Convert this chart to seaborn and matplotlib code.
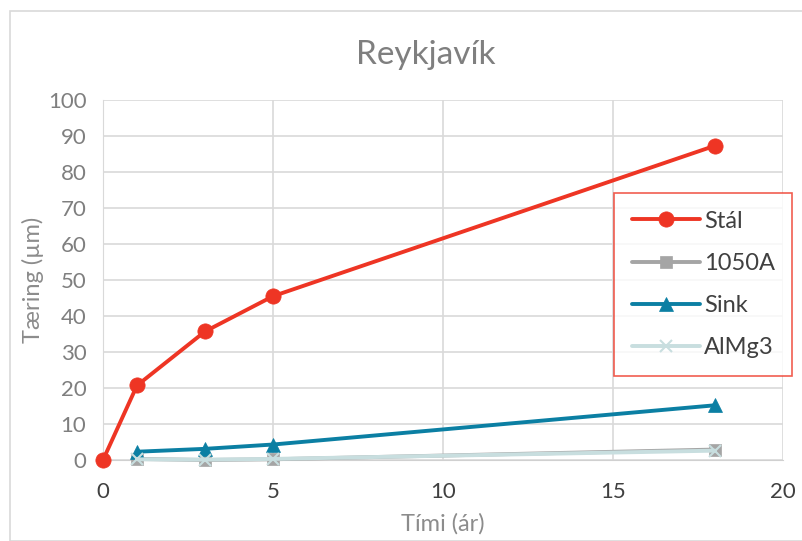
import seaborn as sns
import matplotlib.pyplot as plt
import pandas as pd
from matplotlib.patches import Rectangle

# gögn lesin af myndinni
timi_stal = [0, 1, 3, 5, 18]
staal = [0, 20.7, 35.7, 45.5, 87.3]

timi = [1, 3, 5, 18]
al1050a = [0.3, 0.0, 0.2, 2.9]
sink = [2.3, 3.1, 4.3, 15.2]
almg3 = [0.2, 0.1, 0.3, 2.6]

labels = ['Stál', '1050A', 'Sink', 'AlMg3']
colors = ['#EE3524', '#A5A5A5', '#0B7FA3', '#C8DEDF']
markers = ['o', 's', '^', 'x']

frames = [pd.DataFrame({'t': timi_stal, 'v': staal, 's': 'Stál'})]
for name, vals in zip(labels[1:], [al1050a, sink, almg3]):
    frames.append(pd.DataFrame({'t': timi, 'v': vals, 's': name}))
df = pd.concat(frames, ignore_index=True)

sns.set_style('white')
plt.rcParams['font.family'] = ['Lato', 'DejaVu Sans']

fig = plt.figure(figsize=(8.02, 5.41), dpi=100)
ax = fig.add_axes([103 / 802, 1 - 460 / 541, 680 / 802, 360 / 541])

# rammi utan um myndina
fig.patches.append(Rectangle((10 / 802, 0), 800 / 802, 1 - 11 / 541, transform=fig.transFigure,
                             fill=False, edgecolor='#D9D9D9', linewidth=1.2))

sizes = {'Stál': 11, '1050A': 9, 'Sink': 10, 'AlMg3': 9}
for name, col, mk in zip(labels, colors, markers):
    sub = df[df['s'] == name]
    sns.lineplot(data=sub, x='t', y='v', ax=ax, color=col, marker=mk, markersize=sizes[name],
                 linewidth=2.8, label=name, markeredgecolor=col,
                 markeredgewidth=1.5 if mk == 'x' else 0.5, zorder=3, clip_on=False)

ax.set_xlim(0, 20)
ax.set_ylim(0, 100)
ax.set_xticks(range(0, 21, 5))
ax.set_yticks(range(0, 101, 10))
ax.grid(True, color='#D9D9D9', linewidth=1.2)
ax.set_axisbelow(True)
for sp in ax.spines.values():
    sp.set_visible(False)
ax.spines['bottom'].set_visible(True)
ax.spines['bottom'].set_color('#D0D0D0')
ax.spines['left'].set_visible(True)
ax.spines['left'].set_color('#D9D9D9')
ax.tick_params(axis='x', labelsize=16, colors='#404040', length=0, pad=16)
ax.tick_params(axis='y', labelsize=16, colors='#7F7F7F', length=0, pad=12)
ax.set_xlabel('Tími (ár)', fontsize=17, color='#8C8C8C', labelpad=8)
ax.set_ylabel('Tæring (µm)', fontsize=17, color='#8C8C8C', labelpad=3)
fig.text(426 / 802, 1 - 55 / 541, 'Reykjavík', fontsize=24, color='#7F7F7F',
         ha='center', va='center')

leg = ax.legend(loc='upper left', bbox_to_anchor=(511 / 680, 267 / 360), fontsize=17,
                frameon=True, fancybox=False, handlelength=2.9, labelspacing=0.9,
                borderpad=0.75, handletextpad=0.15, borderaxespad=0)
leg.get_frame().set_edgecolor('#EE3524')
leg.get_frame().set_linewidth(1.2)
for t in leg.get_texts():
    t.set_color('#404040')

fig.savefig('out.png', dpi=100)
